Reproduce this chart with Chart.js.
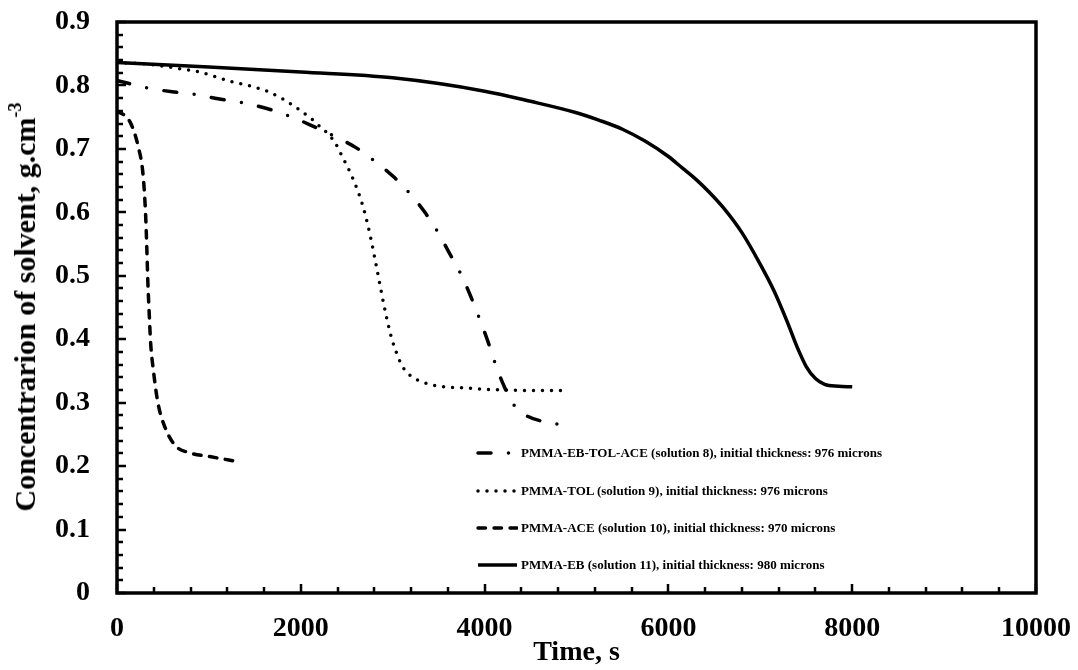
<!DOCTYPE html>
<html>
<head>
<meta charset="utf-8">
<script src="https://cdn.jsdelivr.net/npm/chart.js@4.4.1/dist/chart.umd.min.js"></script>
<style>
  html, body { margin: 0; padding: 0; background: #fff; }
  #wrap { position: relative; width: 1078px; height: 670px; background: #fff; overflow: hidden; }
  #c { display: block; }
  #ytitle {
    position: absolute; left: 25px; top: 307px;
    transform: translate(-50%, -50%) rotate(-90deg);
    white-space: nowrap; font: bold 30px "Liberation Serif", "Times New Roman", serif; color: #000;
  }
  #ytitle sup { font-size: 0.6em; position: relative; top: -0.15em; line-height: 0; }
  .lrow { position: absolute; left: 476px; height: 20px; display: flex; align-items: center;
    font: bold 13px "Liberation Serif", "Times New Roman", serif; color: #000; white-space: nowrap; }
  .lrow svg { display: block; margin-right: 3px; }
</style>
</head>
<body>
<div id="wrap">
  <canvas id="c" width="1078" height="670"></canvas>
  <div id="ytitle">Concentrarion of solvent, g.cm<sup>-3</sup></div>
</div>
<script>
// ---- data ----
const seriesNames = [
  "PMMA-EB-TOL-ACE (solution 8), initial thickness: 976 microns",
  "PMMA-TOL (solution 9), initial thickness: 976 microns",
  "PMMA-ACE (solution 10), initial thickness: 970 microns",
  "PMMA-EB (solution 11), initial thickness: 980 microns"
];

const tMix = [0, 300, 600, 850, 1100, 1360, 1620, 1870, 2100, 2350, 2600, 2810, 3010, 3190, 3350, 3490, 3620, 3740, 3845, 3940, 4030, 4110, 4200, 4300, 4450, 4650, 4950];
const cMix = [0.808, 0.797, 0.790, 0.786, 0.779, 0.773, 0.764, 0.752, 0.738, 0.721, 0.702, 0.680, 0.656, 0.629, 0.600, 0.569, 0.535, 0.503, 0.469, 0.434, 0.399, 0.364, 0.330, 0.300, 0.280, 0.270, 0.263];

const tTol = [0, 300, 700, 870, 1250, 1430, 1630, 1800, 1960, 2120, 2210, 2320, 2380, 2450, 2540, 2630, 2700, 2760, 2810, 2860, 2900, 2940, 2980, 3040, 3110, 3190, 3330, 3510, 3800, 4200, 4850];
const cTol = [0.836, 0.834, 0.826, 0.822, 0.806, 0.800, 0.791, 0.779, 0.764, 0.747, 0.735, 0.720, 0.708, 0.688, 0.662, 0.630, 0.597, 0.560, 0.524, 0.487, 0.457, 0.430, 0.406, 0.379, 0.356, 0.343, 0.332, 0.326, 0.323, 0.320, 0.319];

const tAce = [0, 140, 230, 285, 312, 325, 336, 352, 366, 395, 445, 520, 630, 790, 1010, 1320];
const cAce = [0.760, 0.743, 0.704, 0.657, 0.594, 0.541, 0.489, 0.436, 0.394, 0.352, 0.300, 0.262, 0.233, 0.221, 0.215, 0.207];

const tEb = [0, 1000, 2000, 3000, 4000, 4500, 5000, 5250, 5500, 5750, 6000, 6150, 6300, 6450, 6600, 6800, 7000, 7150, 7300, 7400, 7500, 7600, 7700, 7850, 8000];
const cEb = [0.836, 0.829, 0.821, 0.812, 0.791, 0.775, 0.757, 0.745, 0.731, 0.712, 0.688, 0.670, 0.652, 0.631, 0.607, 0.568, 0.518, 0.476, 0.425, 0.388, 0.357, 0.338, 0.329, 0.326, 0.325];

const xTickLabels = ["0", "2000", "4000", "6000", "8000", "10000"];
const yTickLabels = ["0", "0.1", "0.2", "0.3", "0.4", "0.5", "0.6", "0.7", "0.8", "0.9"];
const xTitle = "Time, s";

// ---- styles ----
const FONT = '"Liberation Serif", "Times New Roman", serif';
const LW = 3.5;
const styles = [
  { dash: [13, 17.5, 0, 17.5], cap: 'round' },
  { dash: [0, 9], cap: 'round' },
  { dash: [7.5, 8.5], cap: 'round' },
  { dash: [], cap: 'butt' }
];

const pts = (t, c) => t.map((v, i) => ({ x: v, y: c[i] }));
const seriesData = [pts(tMix, cMix), pts(tTol, cTol), pts(tAce, cAce), pts(tEb, cEb)];

const datasets = seriesData.map((d, i) => ({
  label: seriesNames[i],
  data: d,
  borderColor: '#000',
  backgroundColor: '#000',
  borderWidth: LW,
  borderDash: styles[i].dash,
  borderCapStyle: styles[i].cap,
  borderJoinStyle: 'round',
  pointRadius: 0,
  pointHoverRadius: 0,
  fill: false,
  cubicInterpolationMode: 'monotone'
}));

const framePlugin = {
  id: 'frame',
  afterDraw(chart) {
    const { ctx, chartArea: a, scales: { x, y } } = chart;
    ctx.save();
    ctx.strokeStyle = '#000';
    ctx.setLineDash([]);
    ctx.lineCap = 'butt';
    ctx.lineWidth = 2.5;
    ctx.beginPath();
    for (let k = 0; k <= 25; k++) {
      const px = Math.round(x.getPixelForValue(k * 400));
      const len = (k % 5 === 0) ? 9 : 6;
      ctx.moveTo(px, a.bottom);
      ctx.lineTo(px, a.bottom - len);
    }
    for (let k = 0; k <= 45; k++) {
      const py = Math.round(y.getPixelForValue(k * 0.02));
      const len = (k % 5 === 0) ? 9 : 6;
      ctx.moveTo(a.left, py);
      ctx.lineTo(a.left + len, py);
    }
    ctx.stroke();
    ctx.lineWidth = 3.5;
    ctx.lineJoin = 'miter';
    ctx.strokeRect(a.left, a.top, a.right - a.left, a.bottom - a.top);
    ctx.restore();
  }
};

const chart = new Chart(document.getElementById('c'), {
  type: 'line',
  data: { datasets },
  options: {
    responsive: false,
    animation: false,
    events: [],
    layout: { padding: { top: 22, right: 42, bottom: 0, left: 0 } },
    plugins: { legend: { display: false }, tooltip: { enabled: false }, title: { display: false } },
    scales: {
      x: {
        type: 'linear', min: 0, max: 10000,
        grid: { display: false, drawTicks: false },
        border: { display: false },
        ticks: {
          stepSize: 2000, padding: 19, color: '#000', maxRotation: 0,
          font: { family: FONT, size: 28, weight: 'bold' },
          callback: (v, i) => xTickLabels[i]
        },
        title: { display: true, text: xTitle, color: '#000', padding: { top: 0, bottom: 0 },
          font: { family: FONT, size: 28, weight: 'bold' } },
        afterFit: s => { s.height = 77; s.paddingLeft = 0; s.paddingRight = 0; }
      },
      y: {
        type: 'linear', min: 0, max: 0.9,
        grid: { display: false, drawTicks: false },
        border: { display: false },
        ticks: {
          stepSize: 0.1, padding: 27, color: '#000',
          font: { family: FONT, size: 28, weight: 'bold' },
          callback: (v, i) => yTickLabels[i]
        },
        afterFit: s => { s.width = 117; s.paddingTop = 0; s.paddingBottom = 0; }
      }
    }
  },
  plugins: [framePlugin]
});

// ---- legend (HTML) ----
const legendRowCenters = [453, 491, 528, 565];
const wrap = document.getElementById('wrap');
seriesNames.forEach((name, i) => {
  const row = document.createElement('div');
  row.className = 'lrow';
  row.style.top = (legendRowCenters[i] - 10) + 'px';
  const svgNS = 'http://www.w3.org/2000/svg';
  const svg = document.createElementNS(svgNS, 'svg');
  svg.setAttribute('width', '42'); svg.setAttribute('height', '10');
  const ln = document.createElementNS(svgNS, 'line');
  ln.setAttribute('x1', '2'); ln.setAttribute('x2', '41');
  ln.setAttribute('y1', '5'); ln.setAttribute('y2', '5');
  ln.setAttribute('stroke', '#000'); ln.setAttribute('stroke-width', String(LW));
  ln.setAttribute('stroke-linecap', styles[i].cap);
  if (styles[i].dash.length) ln.setAttribute('stroke-dasharray', styles[i].dash.join(' '));
  svg.appendChild(ln);
  const span = document.createElement('span');
  span.textContent = name;
  row.appendChild(svg); row.appendChild(span);
  wrap.appendChild(row);
});
</script>
</body>
</html>
